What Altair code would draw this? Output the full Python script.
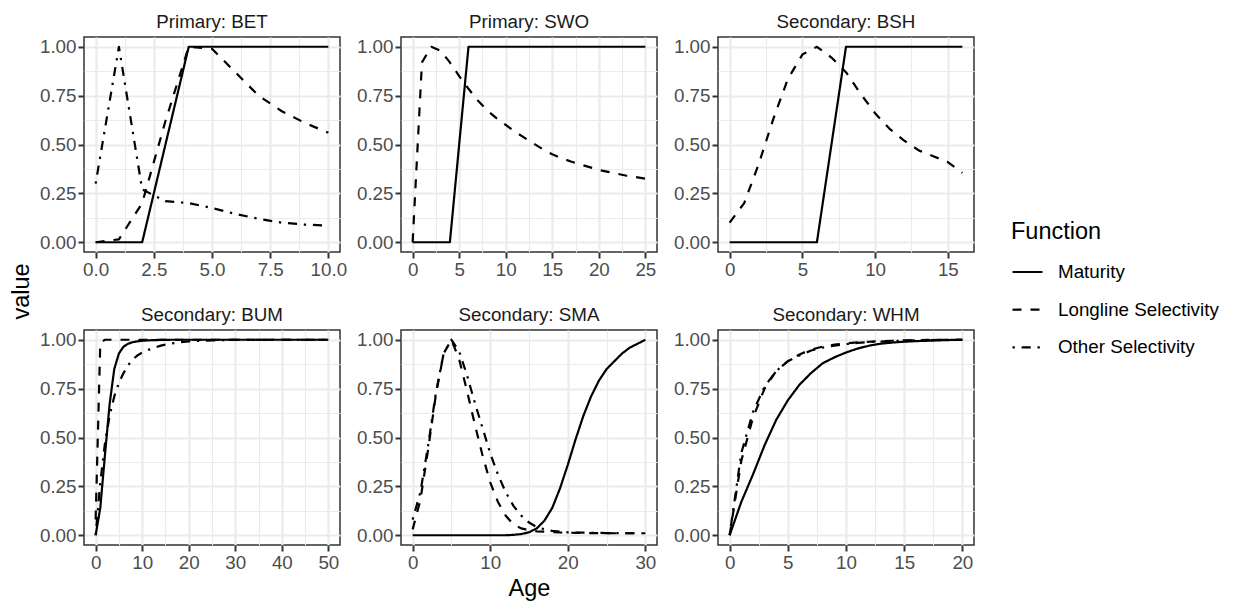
import altair as alt
import pandas as pd

FONT = "Liberation Sans"
FUNCS = ["Maturity", "Longline Selectivity", "Other Selectivity"]
PANELS = ["Primary: BET", "Primary: SWO", "Secondary: BSH",
          "Secondary: BUM", "Secondary: SMA", "Secondary: WHM"]

# ---- Primary: BET ----
BET_AGE = list(range(0, 11))
BET_MAT = [0, 0, 0, 0.5, 1, 1, 1, 1, 1, 1, 1]
BET_LL = [0, 0.015, 0.2, 0.62, 1.0, 0.99, 0.87, 0.75, 0.67, 0.61, 0.56]
BET_OTH = [0.3, 1.0, 0.27, 0.21, 0.2, 0.175, 0.145, 0.12, 0.1, 0.09, 0.085]

# ---- Primary: SWO ----
SWO_AGE = list(range(0, 26))
SWO_MAT = [0, 0, 0, 0, 0, 0.5] + [1] * 20
SWO_LL = [0, 0.92, 1.0, 0.98, 0.92, 0.85, 0.785, 0.725, 0.675, 0.635, 0.60,
          0.565, 0.535, 0.505, 0.475, 0.45, 0.43, 0.413, 0.398, 0.384, 0.37,
          0.36, 0.35, 0.34, 0.333, 0.325]

# ---- Secondary: BSH ----
BSH_AGE = list(range(0, 17))
BSH_MAT = [0] * 7 + [0.5] + [1] * 9
BSH_LL = [0.1, 0.2, 0.4, 0.63, 0.835, 0.96, 1.0, 0.945, 0.87, 0.76, 0.66,
          0.58, 0.52, 0.47, 0.44, 0.41, 0.355]

# ---- Secondary: BUM ----
BUM_AGE = [0, 1, 2, 3, 4, 5, 6, 7, 8, 9, 10, 12, 14, 16, 18, 20, 25, 30, 40, 50]
BUM_MAT = [0, 0.14, 0.41, 0.67, 0.85, 0.93, 0.965, 0.98, 0.988, 0.992, 0.995,
           0.998, 0.999, 1, 1, 1, 1, 1, 1, 1]
BUM_LL = [0.08, 0.985, 1, 1, 1, 1, 1, 1, 1, 1, 1, 1, 1, 1, 1, 1, 1, 1, 1, 1]
BUM_OTH = [0, 0.27, 0.47, 0.61, 0.71, 0.78, 0.83, 0.87, 0.9, 0.92, 0.935,
           0.955, 0.97, 0.98, 0.987, 0.992, 0.997, 1, 1, 1]

# ---- Secondary: SMA ----
SMA_AGE = list(range(0, 31))
SMA_MAT = [0] * 13 + [0.002, 0.006, 0.015, 0.035, 0.075, 0.14, 0.24, 0.36,
                      0.49, 0.61, 0.71, 0.79, 0.85, 0.89, 0.93, 0.96, 0.98, 1.0]
SMA_LL = [0.03, 0.18, 0.44, 0.72, 0.93, 1.0, 0.9, 0.74, 0.57, 0.41, 0.27,
          0.17, 0.1, 0.055, 0.035, 0.025, 0.02, 0.018, 0.016, 0.014, 0.013,
          0.012, 0.012, 0.011, 0.011, 0.011, 0.01, 0.01, 0.01, 0.01, 0.01]
SMA_OTH = [0.08, 0.22, 0.46, 0.73, 0.93, 1.0, 0.94, 0.82, 0.68, 0.55, 0.42,
           0.31, 0.22, 0.15, 0.1, 0.065, 0.042, 0.03, 0.022, 0.018, 0.015,
           0.014, 0.013, 0.012, 0.012, 0.011, 0.011, 0.01, 0.01, 0.01, 0.01]

# ---- Secondary: WHM ----
WHM_AGE = list(range(0, 21))
WHM_MAT = [0, 0.17, 0.31, 0.46, 0.59, 0.69, 0.77, 0.83, 0.88, 0.91, 0.935,
           0.955, 0.97, 0.98, 0.986, 0.99, 0.993, 0.995, 0.997, 0.999, 1.0]
WHM_LL = [0, 0.38, 0.6, 0.75, 0.84, 0.89, 0.925, 0.95, 0.965, 0.975, 0.982,
          0.987, 0.99, 0.993, 0.995, 0.997, 0.998, 0.999, 0.999, 1.0, 1.0]
WHM_OTH = [0, 0.42, 0.63, 0.76, 0.84, 0.89, 0.92, 0.945, 0.96, 0.97, 0.978,
           0.984, 0.988, 0.991, 0.994, 0.996, 0.997, 0.998, 0.999, 1.0, 1.0]

# axis breaks (major labelled, minor grid only)
X_MAX = [10, 25, 16, 50, 30, 20]
X_MAJOR = [[0, 2.5, 5, 7.5, 10], [0, 5, 10, 15, 20, 25], [0, 5, 10, 15],
           [0, 10, 20, 30, 40, 50], [0, 10, 20, 30], [0, 5, 10, 15, 20]]
X_MINOR = [[1.25, 3.75, 6.25, 8.75], [2.5, 7.5, 12.5, 17.5, 22.5],
           [2.5, 7.5, 12.5], [5, 15, 25, 35, 45], [5, 15, 25],
           [2.5, 7.5, 12.5, 17.5]]
X_FMT = [".1f", "d", "d", "d", "d", "d"]
Y_MAJOR = [0, 0.25, 0.5, 0.75, 1.0]
Y_MINOR = [0.125, 0.375, 0.625, 0.875]

SERIES = [
    (BET_AGE, [BET_MAT, BET_LL, BET_OTH]),
    (SWO_AGE, [SWO_MAT, SWO_LL, None]),
    (BSH_AGE, [BSH_MAT, BSH_LL, None]),
    (BUM_AGE, [BUM_MAT, BUM_LL, BUM_OTH]),
    (SMA_AGE, [SMA_MAT, SMA_LL, SMA_OTH]),
    (WHM_AGE, [WHM_MAT, WHM_LL, WHM_OTH]),
]

rows = []
for pname, (ages, vals) in zip(PANELS, SERIES):
    for fname, v in zip(FUNCS, vals):
        if v is None:
            continue
        for a, y in zip(ages, v):
            rows.append({"panel": pname, "Function": fname, "Age": a, "value": y})
df = pd.DataFrame(rows)

W, H = 256, 215
LINE_W = 2.2


def arr(v):
    return "[" + ",".join(repr(float(x)) for x in v) + "]"


def make_axis(major, minor, fmt, **kw):
    is_minor = f"indexof({arr(major)}, datum.value) < 0"
    return alt.Axis(
        values=sorted(major + minor),
        labelExpr=f"{is_minor} ? '' : format(datum.value, '{fmt}')",
        gridWidth={"condition": {"test": is_minor, "value": 1.1}, "value": 2.2},
        tickOpacity={"condition": {"test": is_minor, "value": 0}, "value": 1},
        labelOverlap=False, labelFlush=False, labelBound=False,
        **kw,
    )


dash_scale = alt.Scale(domain=FUNCS, range=[[1, 0], [9, 9], [2.3, 6.8, 9.1, 6.8]])
legend = alt.Legend(
    orient="none", legendX=927, legendY=183,
    title="Function", titleFontSize=23.5, titleColor="black",
    titleFontWeight="normal", titleFont=FONT, titlePadding=12,
    labelFontSize=18.8, labelColor="black", labelFont=FONT, labelOffset=14,
    labelLimit=400,
    symbolType="stroke", symbolSize=900, symbolStrokeWidth=LINE_W,
    symbolStrokeColor="black", rowPadding=10.7, padding=0,
)

charts = []
for i, pname in enumerate(PANELS):
    xmax = X_MAX[i]
    xkw = {"title": None}
    ykw = {"title": None}
    if i == 4:
        xkw = dict(title="Age", titleX=W / 2, titleY=50, titleAlign="center",
                   titleBaseline="alphabetic", titleAngle=0)
    if i == 0:
        ykw = dict(title="value", titleX=-56, titleY=254, titleAlign="center",
                   titleBaseline="alphabetic", titleAngle=270)
    c = alt.Chart(df[df.panel == pname]).mark_line(
        color="black", strokeWidth=LINE_W, strokeJoin="round"
    ).encode(
        x=alt.X("Age:Q", scale=alt.Scale(domain=[-0.05 * xmax, 1.05 * xmax], nice=False, zero=False),
                axis=make_axis(X_MAJOR[i], X_MINOR[i], X_FMT[i], **xkw)),
        y=alt.Y("value:Q", scale=alt.Scale(domain=[-0.05, 1.05], nice=False, zero=False),
                axis=make_axis(Y_MAJOR, Y_MINOR, ".2f", **ykw)),
        strokeDash=alt.StrokeDash("Function:N", scale=dash_scale, legend=legend),
        order="Age:Q",
    ).properties(
        width=W, height=H,
        title=alt.TitleParams(pname, fontSize=18.8, font=FONT, color="#1A1A1A",
                              fontWeight="normal", anchor="middle", offset=5),
    )
    charts.append(c)

chart = alt.concat(*charts, columns=3).properties(
    spacing={"row": 78, "column": 61},
    bounds="flush",
    padding={"left": 0, "top": 4, "right": 5, "bottom": 5},
).configure_axis(
    labelFont=FONT, labelFontSize=18.8, labelColor="#4D4D4D", labelPadding=2,
    tickColor="#333333", tickSize=6, tickWidth=2, domain=False,
    gridColor="#EBEBEB",
    titleFont=FONT, titleFontSize=23.5, titleColor="black", titleFontWeight="normal",
).configure_view(
    stroke="#333333", strokeWidth=1.5,
)

chart.save("out.html", embed_options={"renderer": "svg", "actions": False})
